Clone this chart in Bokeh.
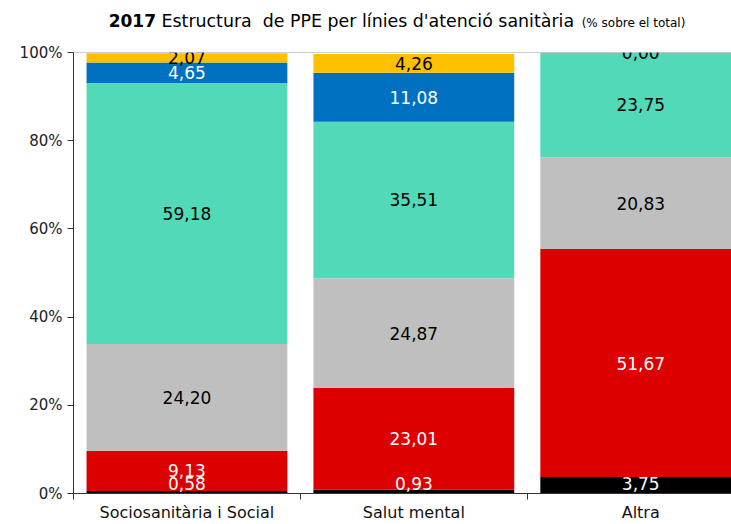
from bokeh.plotting import figure
from bokeh.models import ColumnDataSource, FixedTicker, Span, CustomJSTickFormatter, Div
from bokeh.layouts import column
from bokeh.embed import file_html
from bokeh.resources import INLINE
from bokeh.core.properties import value

categories = ["Sociosanitària i Social", "Salut mental", "Altra"]
series_names = ["Negre", "Vermell", "Gris", "Verd", "Blau", "Groc"]
black_vals = [0.58, 0.93, 3.75]
red_vals = [9.13, 23.01, 51.67]
gray_vals = [24.20, 24.87, 20.83]
teal_vals = [59.18, 35.51, 23.75]
blue_vals = [4.65, 11.08, None]
yellow_vals = [2.07, 4.26, 0.00]
y_ticks = [0, 20, 40, 60, 80, 100]

series = [black_vals, red_vals, gray_vals, teal_vals, blue_vals, yellow_vals]
colors = ["#000000", "#DD0000", "#BFBFBF", "#52D9B8", "#0070C0", "#FFC000"]
text_colors = ["white", "white", "black", "black", "white", "black"]

FONT = "DejaVu Sans"
xs = [i + 0.5 for i in range(len(categories))]

title = Div(
    text=("<div style=\"font-family:'DejaVu Sans';color:#000;white-space:nowrap;"
          "text-align:center;width:658px;margin-left:68px;padding-top:9px;\">"
          "<span style='font-weight:bold;font-size:17px'>2017</span>"
          "<span style='font-size:17.4px'>&nbsp;Estructura&nbsp; de PPE per línies d'atenció sanitària</span>"
          "<span style='font-size:12px'>&nbsp;&nbsp;(% sobre el total)</span></div>"),
    width=731, height=40, margin=(0, 0, 0, 0))

p = figure(width=731, height=484, x_range=(0, 2.9), y_range=(0, 100),
           output_backend="svg", toolbar_location=None,
           min_border_left=73, min_border_right=0, min_border_top=12, min_border_bottom=30)
p.xgrid.visible = False
p.ygrid.visible = False
p.outline_line_color = None
p.background_fill_color = "white"

bottoms = [0.0] * len(categories)
lx, ly, lt, lc = [], [], [], []
for vals, col, tcol in zip(series, colors, text_colors):
    tops = []
    for i, v in enumerate(vals):
        vv = v if v is not None else 0.0
        tops.append(bottoms[i] + vv)
        if v is not None:
            mid = bottoms[i] + vv / 2
            lx.append(xs[i]); ly.append(max(mid, 2.3))
            lt.append(f"{v:.2f}".replace(".", ",")); lc.append(tcol)
    src = ColumnDataSource(dict(x=xs, bottom=bottoms, top=tops))
    p.vbar(x="x", bottom="bottom", top="top", width=0.885, source=src,
           fill_color=col, line_color=None)
    bottoms = tops

lsrc = ColumnDataSource(dict(x=lx, y=ly, t=lt, c=lc))
p.text(x="x", y="y", text="t", text_color="c", source=lsrc,
       text_align="center", text_baseline="middle",
       text_font=value(FONT), text_font_size="17px")

p.add_layout(Span(location=100, dimension="width", line_color="#A0A0A0", line_width=1))

# axes
p.yaxis.ticker = FixedTicker(ticks=y_ticks)
p.yaxis.formatter = CustomJSTickFormatter(code="return tick.toFixed(0) + '%';")
p.yaxis.major_label_text_font = FONT
p.yaxis.major_label_text_font_size = "15px"
p.yaxis.major_label_text_color = "#222222"
p.yaxis.axis_line_color = "#333333"
p.yaxis.major_tick_line_color = "#333333"
p.yaxis.major_tick_out = 6
p.yaxis.major_tick_in = 0
p.yaxis.minor_tick_line_color = None

p.xaxis.ticker = FixedTicker(ticks=xs, minor_ticks=[0, 1, 2, 3])
p.xaxis.major_label_overrides = {x: c for x, c in zip(xs, categories)}
p.xaxis.major_tick_line_color = None
p.xaxis.major_tick_out = 0
p.xaxis.major_tick_in = 0
p.xaxis.minor_tick_out = 6
p.xaxis.minor_tick_in = 0
p.xaxis.minor_tick_line_color = "#333333"
p.xaxis.axis_line_color = "#333333"
p.xaxis.major_label_text_font = FONT
p.xaxis.major_label_text_font_size = "16px"
p.xaxis.major_label_text_color = "#111111"
p.xaxis.major_label_standoff = 3

layout = column(title, p, spacing=0)
open("out.html", "w").write(file_html(layout, INLINE))
